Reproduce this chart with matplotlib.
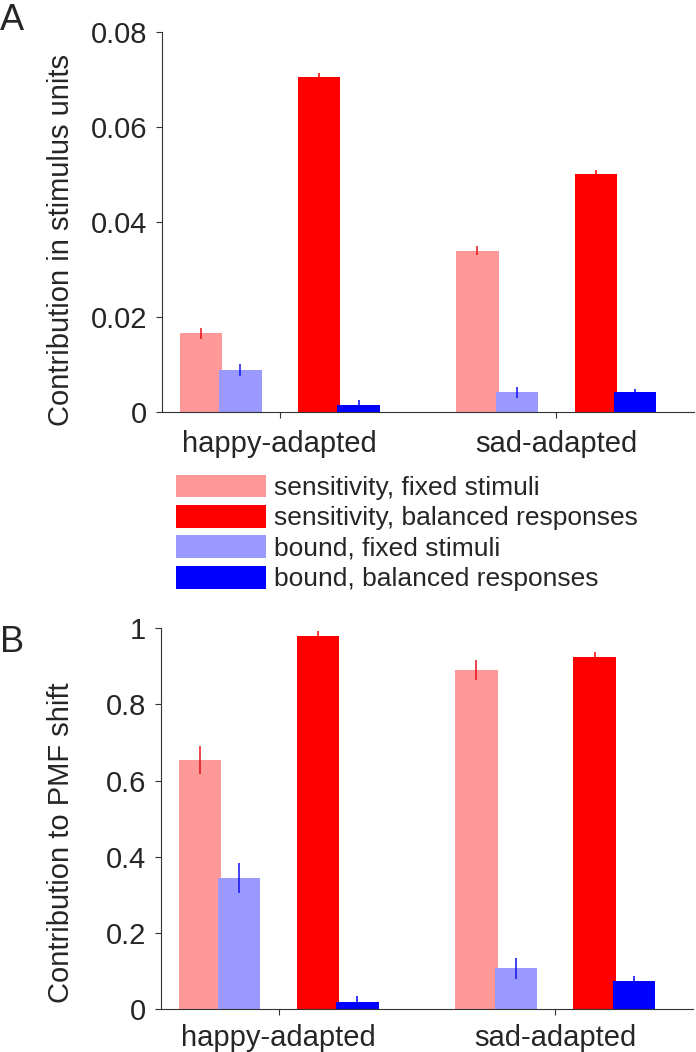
import matplotlib
matplotlib.use("Agg")
import matplotlib.pyplot as plt
import numpy as np

plt.rcParams['font.family'] = ['Liberation Sans', 'DejaVu Sans']

groups = ['happy-adapted', 'sad-adapted']
series = ['sensitivity, fixed stimuli', 'sensitivity, balanced responses',
          'bound, fixed stimuli', 'bound, balanced responses']
colors = ['#ff9999', '#ff0000', '#9999ff', '#0000ff']
err_colors = ['#e8101a', '#ff0000', '#1010f0', '#0000ff']
offsets = [-0.285, 0.1425, -0.1425, 0.285]

# panel A: contribution in stimulus units
sens_fixed_A = [0.0165, 0.0339]
sens_fixed_A_err = [0.0012, 0.0010]
sens_bal_A = [0.0705, 0.0501]
sens_bal_A_err = [0.0009, 0.0008]
bound_fixed_A = [0.0088, 0.0041]
bound_fixed_A_err = [0.0012, 0.0012]
bound_bal_A = [0.0014, 0.0041]
bound_bal_A_err = [0.0010, 0.0007]

# panel B: contribution to PMF shift
sens_fixed_B = [0.654, 0.891]
sens_fixed_B_err = [0.038, 0.026]
sens_bal_B = [0.979, 0.925]
sens_bal_B_err = [0.014, 0.013]
bound_fixed_B = [0.345, 0.107]
bound_fixed_B_err = [0.039, 0.027]
bound_bal_B = [0.019, 0.074]
bound_bal_B_err = [0.015, 0.013]

W, H = 696, 1052
fig = plt.figure(figsize=(W / 100, H / 100), dpi=100)
axA = fig.add_axes([162 / W, 1 - 411.7 / H, (694 - 162) / W, 380 / H])
axB = fig.add_axes([160.7 / W, 1 - 1009 / H, (693 - 160.7) / W, 380.7 / H])

x = np.arange(1, len(groups) + 1)
dark = '#262626'


def draw(ax, vals, errs, ymax, yticks, xpad):
    handles = []
    for i in range(4):
        b = ax.bar(x + offsets[i], vals[i], width=0.153, color=colors[i],
                   edgecolor='none', zorder=2 + 0.1 * i, label=series[i])
        ax.errorbar(x + offsets[i], vals[i], yerr=errs[i], fmt='none',
                    ecolor=err_colors[i], elinewidth=1.1, capsize=0, zorder=3)
        handles.append(b)
    ax.set_xlim(0.574, 2.498)
    ax.set_ylim(0, ymax)
    ax.set_xticks(x)
    ax.set_xticklabels(groups)
    ax.set_yticks(yticks)
    ax.set_yticklabels(['{:g}'.format(v) for v in yticks])
    for s in ['top', 'right']:
        ax.spines[s].set_visible(False)
    for s in ['left', 'bottom']:
        ax.spines[s].set_color('#333333')
        ax.spines[s].set_linewidth(0.8)
    ax.tick_params(axis='both', direction='out', length=4.5, width=0.8,
                   color='#333333', labelcolor=dark, labelsize=21)
    ax.tick_params(axis='y', pad=6)
    ax.tick_params(axis='x', pad=xpad)
    return handles


hA = draw(axA, [sens_fixed_A, sens_bal_A, bound_fixed_A, bound_bal_A],
          [sens_fixed_A_err, sens_bal_A_err, bound_fixed_A_err, bound_bal_A_err],
          0.08, [0, 0.02, 0.04, 0.06, 0.08], 9)
draw(axB, [sens_fixed_B, sens_bal_B, bound_fixed_B, bound_bal_B],
     [sens_fixed_B_err, sens_bal_B_err, bound_fixed_B_err, bound_bal_B_err],
     1.0, [0, 0.2, 0.4, 0.6, 0.8, 1.0], 6)

fig.text(61 / W, 1 - 240 / H, 'Contribution in stimulus units', rotation=90,
         ha='center', va='center', fontsize=21, color=dark)
fig.text(61 / W, 1 - 843 / H, 'Contribution to PMF shift', rotation=90,
         ha='center', va='center', fontsize=21, color=dark)

fig.text(0.0, 1 - 30 / H, 'A', fontsize=26, color=dark, va='baseline')
fig.text(0.0, 1 - 652 / H, 'B', fontsize=26, color=dark, va='baseline')

leg = fig.legend(hA, series, loc='upper left', bbox_to_anchor=(176 / W, 1 - 474.5 / H),
                 frameon=False, fontsize=19, borderpad=0, borderaxespad=0,
                 handlelength=3.41, handleheight=0.95, handletextpad=0.3,
                 labelspacing=0.19)
for t in leg.get_texts():
    t.set_color(dark)

plt.savefig("out.png", dpi=100)
